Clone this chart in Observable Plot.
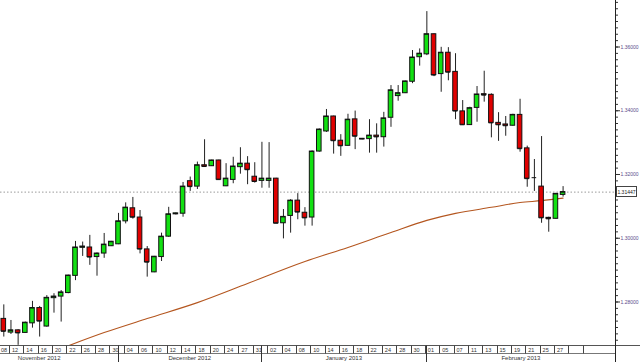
<!DOCTYPE html>
<html><head><meta charset="utf-8">
<script src="https://cdn.jsdelivr.net/npm/d3@7"></script>
<script src="https://cdn.jsdelivr.net/npm/@observablehq/plot@0.6"></script>
<style>html,body{margin:0;padding:0;background:#fff;overflow:hidden}</style>
</head><body><div id="chart"></div>
<script>
const dates = [
"2012-11-09","2012-11-12","2012-11-13","2012-11-14","2012-11-15","2012-11-16","2012-11-19","2012-11-20","2012-11-21","2012-11-22",
"2012-11-23","2012-11-26","2012-11-27","2012-11-28","2012-11-29","2012-11-30","2012-12-03","2012-12-04","2012-12-05","2012-12-06",
"2012-12-07","2012-12-10","2012-12-11","2012-12-12","2012-12-13","2012-12-14","2012-12-17","2012-12-18","2012-12-19","2012-12-20",
"2012-12-21","2012-12-24","2012-12-26","2012-12-27","2012-12-28","2012-12-31","2013-01-01","2013-01-02","2013-01-03","2013-01-04",
"2013-01-07","2013-01-08","2013-01-09","2013-01-10","2013-01-11","2013-01-14","2013-01-15","2013-01-16","2013-01-17","2013-01-18",
"2013-01-21","2013-01-22","2013-01-23","2013-01-24","2013-01-25","2013-01-28","2013-01-29","2013-01-30","2013-01-31","2013-02-01",
"2013-02-04","2013-02-05","2013-02-06","2013-02-07","2013-02-08","2013-02-11","2013-02-12","2013-02-13","2013-02-14","2013-02-15",
"2013-02-18","2013-02-19","2013-02-20","2013-02-21","2013-02-22","2013-02-25","2013-02-26","2013-02-27","2013-02-28"];
const open = [
1.2747,1.2704,1.2711,1.2703,1.2733,1.2781,1.2723,1.2812,1.2817,1.2828,
1.2882,1.2970,1.2971,1.2941,1.2952,1.2975,1.2981,1.3053,1.3094,1.3065,
1.2965,1.2893,1.2941,1.3005,1.3075,1.3077,1.3179,1.3162,1.3229,1.3226,
1.3244,1.3163,1.3183,1.3223,1.3234,1.3193,1.3180,1.3180,1.3187,1.3047,
1.3070,1.3118,1.3080,1.3065,1.3272,1.3335,1.3382,1.3306,1.3290,1.3373,
1.3310,1.3311,1.3322,1.3317,1.3378,1.3446,1.3455,1.3491,1.3568,1.3577,
1.3640,1.3515,1.3582,1.3522,1.3398,1.3355,1.3409,1.3452,1.3450,1.3362,
1.3357,1.3353,1.3387,1.3282,1.3190,1.3162,1.3064,1.3061,1.3136];
const high = [
1.2791,1.2742,1.2713,1.2737,1.2802,1.2786,1.2820,1.2826,1.2836,1.2884,
1.2990,1.2988,1.3009,1.2954,1.3015,1.2990,1.3078,1.3111,1.3128,1.3087,
1.2974,1.2943,1.3016,1.3097,1.3079,1.3175,1.3192,1.3239,1.3309,1.3245,
1.3245,1.3234,1.3254,1.3284,1.3256,1.3237,1.3301,1.3300,1.3188,1.3090,
1.3121,1.3140,1.3096,1.3274,1.3343,1.3404,1.3383,1.3325,1.3389,1.3399,
1.3313,1.3372,1.3359,1.3395,1.3479,1.3479,1.3493,1.3589,1.3594,1.3711,
1.3641,1.3599,1.3598,1.3579,1.3432,1.3411,1.3476,1.3524,1.3453,1.3394,
1.3382,1.3389,1.3436,1.3289,1.3247,1.3319,1.3066,1.3141,1.3162];
const low = [
1.2690,1.2698,1.2664,1.2702,1.2718,1.2690,1.2721,1.2765,1.2737,1.2826,
1.2867,1.2943,1.2915,1.2881,1.2937,1.2974,1.2980,1.3045,1.3060,1.2951,
1.2878,1.2892,1.2927,1.3003,1.3073,1.3066,1.3147,1.3153,1.3224,1.3225,
1.3183,1.3162,1.3171,1.3201,1.3168,1.3173,1.3157,1.3157,1.3046,1.2998,
1.3016,1.3058,1.3038,1.3038,1.3270,1.3332,1.3264,1.3257,1.3289,1.3278,
1.3309,1.3267,1.3267,1.3286,1.3348,1.3430,1.3454,1.3485,1.3540,1.3573,
1.3507,1.3458,1.3494,1.3372,1.3355,1.3354,1.3364,1.3427,1.3315,1.3304,
1.3320,1.3352,1.3270,1.3160,1.3147,1.3047,1.3019,1.3060,1.3129];
const close = [
1.2708,1.2711,1.2703,1.2735,1.2781,1.2740,1.2813,1.2817,1.2830,1.2883,
1.2971,1.2974,1.2941,1.2952,1.2980,1.2989,1.3053,1.3096,1.3066,1.2966,
1.2925,1.2942,1.3005,1.3075,1.3078,1.3162,1.3162,1.3229,1.3225,1.3244,
1.3184,1.3187,1.3225,1.3234,1.3215,1.3178,1.3187,1.3187,1.3047,1.3067,
1.3118,1.3082,1.3064,1.3272,1.3341,1.3382,1.3306,1.3290,1.3372,1.3320,
1.3312,1.3322,1.3318,1.3376,1.3464,1.3455,1.3492,1.3567,1.3579,1.3640,
1.3512,1.3582,1.3521,1.3399,1.3356,1.3408,1.3451,1.3449,1.3362,1.3356,
1.3353,1.3387,1.3281,1.3187,1.3190,1.3064,1.3061,1.3139,1.31447];
// moving average, read at sample candles
const maIndex = [8,14,20,27,34,42,48,54,59,63,68,72,75,78];
const maValue = [1.2654,1.2704,1.2748,1.2798,1.2858,1.2927,1.2971,1.3018,1.3056,1.3078,1.3097,1.3112,1.3118,1.3126];
// axis ticks
const yMajorTicks = [1.28,1.30,1.32,1.34,1.36];
const yMinorTicks = d3.range(1268,1375,2).map(v => v/1000);
const cellStart = [-1,1,3,5,7,9,11,13,15,17,19,21,23,25,27,29,31,33,35,37,39,41,43,45,47,49,51,53,55,57,59,61,63,65,67,69,71,73,75,77];
const cellLabels = ["08","12","14","16","20","22","26","28","30","04","06","10","12","14","18","20","24","27","31","02","04","08","10","14","16","18","22","24","28","30","01","05","07","11","13","15","19","21","25","27"];
const emptyCells = [79,81];
const monthLabels = ["November 2012","December 2012","January 2013","February 2013"];
const monthStart = [-6,16,36,59];

const green = "#12e012", red = "#e00000";
const candles = dates.map((d,i)=>({i, date:d, o:open[i], h:high[i], l:low[i], c:close[i]}));
const ma = maIndex.map((i,k)=>({i, v:maValue[k]}));
const last = close[close.length-1];
const xDomain = [-0.46, 85.31];
const fmt = d3.format(".5f");

const plot = Plot.plot({
  width: 640, height: 362,
  marginTop: 0, marginBottom: 17, marginLeft: 0, marginRight: 25,
  x: {type: "linear", domain: xDomain, axis: null},
  y: {domain: [1.26635, 1.37459]},
  style: {fontFamily: "Liberation Sans, Arial, sans-serif", fontSize: "5px", background: "#fff", overflow: "visible"},
  marks: [
    Plot.ruleY([last], {stroke: "#9a9a9a", strokeDasharray: "1.5,2"}),
    Plot.line(ma, {x: "i", y: "v", stroke: "#b4561f", strokeWidth: 1.1, curve: "monotone-x", clip: true}),
    Plot.ruleX(candles, {x: "i", y1: "l", y2: "h", stroke: "#222", strokeWidth: 1}),
    Plot.rect(candles, {x1: d => d.i - 0.32, x2: d => d.i + 0.32, y1: "o", y2: "c",
      fill: d => d.c >= d.o ? green : red, stroke: "#111", strokeWidth: 1}),
    Plot.ruleY(candles, {x1: d => d.i - 0.32, x2: d => d.i + 0.32, y: "c", stroke: "#111", strokeWidth: 1}),
    Plot.axisY(yMinorTicks, {anchor: "right", tickSize: 2, tickFormat: () => "", stroke: "#333"}),
    Plot.axisY(yMajorTicks, {anchor: "right", tickSize: 4, tickPadding: 1, tickFormat: fmt,
      fontSize: 5, fill: "#5b4b8a", stroke: "#333", textAnchor: "start"})
  ]
});
document.getElementById("chart").appendChild(plot);

// bottom date strip and right axis line, positioned through Plot's scales
const xs = plot.scale("x").apply, ys = plot.scale("y").apply;
const svg = d3.select(plot);
const g = svg.append("g").attr("font-family", "Liberation Sans, Arial, sans-serif");
const xEnd = 615.5;
g.append("line").attr("x1", 0).attr("x2", 640).attr("y1", 345.5).attr("y2", 345.5).attr("stroke", "#555");
g.append("line").attr("x1", 0).attr("x2", xEnd).attr("y1", 353.5).attr("y2", 353.5).attr("stroke", "#777");
cellStart.concat(emptyCells).forEach(s => {
  const x = Math.round(xs(s - 0.2)) + 0.5;
  g.append("line").attr("x1", x).attr("x2", x).attr("y1", 345.5).attr("y2", 353.5).attr("stroke", "#444");
});
cellStart.forEach((s, k) => {
  g.append("text").attr("x", Math.max(4, xs(s + 0.5) + 1)).attr("y", 351.5).attr("text-anchor", "middle")
    .attr("font-size", 5.5).attr("fill", "#333").text(cellLabels[k]);
});
monthStart.forEach((m, k) => {
  const x0 = xs(m), x1 = k < monthStart.length - 1 ? xs(monthStart[k+1]) : xEnd;
  if (m >= 0) {
    const x = Math.round(x0) + 0.5;
    g.append("line").attr("x1", x).attr("x2", x).attr("y1", 345.5).attr("y2", 362).attr("stroke", "#333");
  }
  g.append("text").attr("x", (x0 + x1) / 2).attr("y", 360).attr("text-anchor", "middle")
    .attr("font-size", 6).attr("fill", "#333").text(monthLabels[k]);
});
g.append("line").attr("x1", xEnd).attr("x2", xEnd).attr("y1", 0).attr("y2", 362).attr("stroke", "#222");
const yl = ys(last);
g.append("rect").attr("x", 616.5).attr("y", Math.round(yl) - 5.5).attr("width", 20).attr("height", 10)
  .attr("fill", "#fff").attr("stroke", "#444");
g.append("text").attr("x", 626.5).attr("y", yl + 2).attr("text-anchor", "middle").attr("font-size", 5)
  .attr("fill", "#222").text(fmt(last));
</script></body></html>
